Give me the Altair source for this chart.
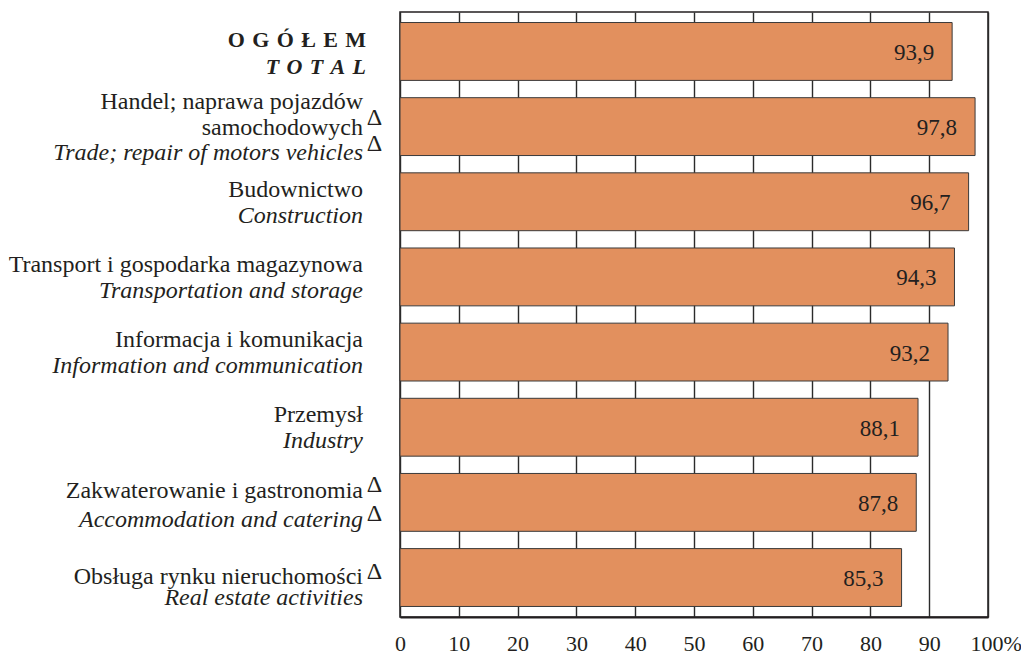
import altair as alt
import pandas as pd

# ---- data ----
categories = ["ogolem", "handel", "budownictwo", "transport",
              "informacja", "przemysl", "zakwaterowanie", "obsluga"]
values = [93.9, 97.8, 96.7, 94.3, 93.2, 88.1, 87.8, 85.3]

SP = "\u2004"
line_cats = ["ogolem", "ogolem",
             "handel", "handel", "handel",
             "budownictwo", "budownictwo",
             "transport", "transport",
             "informacja", "informacja",
             "przemysl", "przemysl",
             "zakwaterowanie", "zakwaterowanie",
             "obsluga", "obsluga"]
line_texts = [SP.join("OGÓŁEM"), SP.join("TOTAL"),
              "Handel; naprawa pojazdów", "samochodowych", "Trade; repair of motors vehicles",
              "Budownictwo", "Construction",
              "Transport i gospodarka magazynowa", "Transportation and storage",
              "Informacja i komunikacja", "Information and communication",
              "Przemysł", "Industry",
              "Zakwaterowanie i gastronomia", "Accommodation and catering",
              "Obsługa rynku nieruchomości", "Real estate activities"]
line_styles = ["bold", "bolditalic",
               "regular", "regular", "italic",
               "regular", "italic",
               "regular", "italic",
               "regular", "italic",
               "regular", "italic",
               "regular", "italic",
               "regular", "italic"]
# baseline offsets (px) from the band centre
line_offsets = [-4, 23,
                -18, 8, 33,
                -5, 21,
                -5, 21,
                -5, 21,
                -5, 21,
                -4, 25,
                6, 27]

delta_cats = ["handel", "handel", "zakwaterowanie", "zakwaterowanie", "obsluga"]
delta_offsets = [-1.5, 24, -10.7, 18.3, 1]

x_ticks = [0, 10, 20, 30, 40, 50, 60, 70, 80, 90, 100]

# ---- tables ----
HALF_BAND = 28.9  # offset channels measure from the band start
bar_df = pd.DataFrame({"cat": categories, "value": values})
lines_df = pd.DataFrame({"cat": line_cats, "txt": line_texts, "style": line_styles,
                         "off": [o + HALF_BAND for o in line_offsets]})
delta_df = pd.DataFrame({"cat": delta_cats,
                         "off": [o + HALF_BAND for o in delta_offsets],
                         "txt": ["Δ"] * len(delta_cats)})

FONT = "'Liberation Serif', 'Times New Roman', Times, 'DejaVu Serif', serif"
INK = "#231f20"

ysc = alt.Scale(domain=categories, paddingInner=0.23, paddingOuter=0.14)
y_enc = alt.Y("cat:N", scale=ysc, axis=None, sort=categories)

x_axis = alt.Axis(
    values=x_ticks, grid=True, gridColor="#2b2b2b", gridWidth=1.4,
    ticks=False, domain=True, domainColor=INK, domainWidth=2,
    labelFont=FONT, labelFontSize=22, labelColor=INK, labelPadding=16,
    labelExpr="datum.value == 100 ? '100%' : datum.label",
    labelAlign={"condition": {"test": "datum.value == 100", "value": "left"}, "value": "center"},
    labelOffset={"condition": {"test": "datum.value == 100", "value": -18}, "value": 0},
    labelFlush=False, labelOverlap=False, title=None,
)

bars = alt.Chart(bar_df).mark_bar(
    color="#E2905E", stroke="#3a3a3a", strokeWidth=1
).encode(
    x=alt.X("value:Q", scale=alt.Scale(domain=[0, 100], nice=False), axis=x_axis),
    y=y_enc,
)

vals = alt.Chart(bar_df).transform_calculate(
    lbl="replace(format(datum.value, '.1f'), '.', ',')"
).mark_text(
    align="right", baseline="alphabetic", dx=-18, dy=8.5,
    font=FONT, fontSize=23, color=INK
).encode(x="value:Q", y=y_enc, text="lbl:N")

style_props = {
    "regular": dict(fontStyle="normal", fontWeight="normal", fontSize=24),
    "italic": dict(fontStyle="italic", fontWeight="normal", fontSize=24),
    "bold": dict(fontStyle="normal", fontWeight="bold", fontSize=22),
    "bolditalic": dict(fontStyle="italic", fontWeight="bold", fontSize=22),
}
label_layers = []
for st, props in style_props.items():
    sub = lines_df[lines_df["style"] == st]
    xpos = -34 if st.startswith("bold") else -37
    label_layers.append(
        alt.Chart(sub).mark_text(
            align="right", baseline="alphabetic", font=FONT, color=INK, **props
        ).encode(
            x=alt.value(xpos), y=y_enc,
            yOffset=alt.YOffset("off:Q", scale=None),
            text="txt:N",
        )
    )

deltas = alt.Chart(delta_df).mark_text(
    align="center", baseline="alphabetic", font=FONT, fontSize=24, color=INK
).encode(
    x=alt.value(-25.5), y=y_enc,
    yOffset=alt.YOffset("off:Q", scale=None),
    text="txt:N",
)

chart = alt.layer(bars, vals, *label_layers, deltas).properties(
    width=588, height=605,
    autosize=alt.AutoSizeParams(type="none"),
    padding={"left": 392, "top": 4, "right": 33, "bottom": 36},
    background="white",
).configure_view(stroke=INK, strokeWidth=1.5)

chart.save("out.html", embed_options={"renderer": "svg", "actions": False})
